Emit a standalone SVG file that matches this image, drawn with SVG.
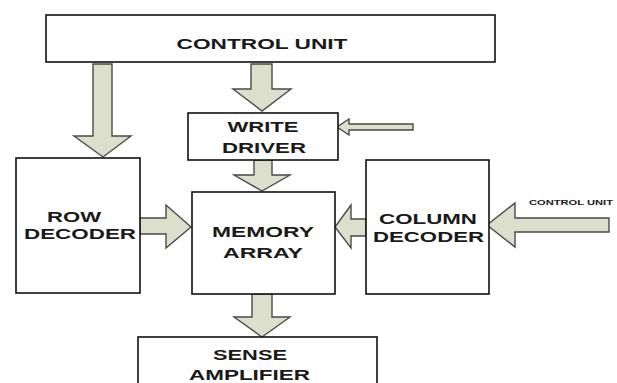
<svg xmlns="http://www.w3.org/2000/svg" width="617" height="383" viewBox="0 0 617 383">
<style>
.box{fill:#fff;stroke:#111;stroke-width:1.6}
.arr{fill:#dcdfcc;stroke:#4a4a48;stroke-width:1.4;stroke-linejoin:miter}
text{font-family:"Liberation Sans",Arial,sans-serif;font-weight:bold;fill:#1a1a1a;text-anchor:middle;font-size:15px}
.sm{font-size:7px}
</style>
<rect width="617" height="383" fill="#fff"/>
<g id="connectors">
<polygon class="arr" points="93,64 112,64 112,136 131,136 103,157 74,136 93,136"/>
<polygon class="arr" points="251,64 272,64 272,89 291,89 262,111 233,89 251,89"/>
<polygon class="arr" points="413,124 413,130 349,130 349,135 337,127 349,119 349,124"/>
<polygon class="arr" points="254,160 272,160 272,175 290,175 262,191 234,175 254,175"/>
<polygon class="arr" points="140,218 166,218 166,205 191,227 166,248 166,234 140,234"/>
<polygon class="arr" points="366,219 351,219 351,205 335,227 351,248 351,236 366,236"/>
<polygon class="arr" points="609,218 609,232 515,232 515,247 487,225 515,203 515,218"/>
<polygon class="arr" points="252,294 272,294 272,317 290,317 262,337 234,317 252,317"/>
</g>
<g id="control-unit">
<rect class="box" x="46" y="15" width="449" height="47"/>
<text x="262" y="49" font-size="16" textLength="171" lengthAdjust="spacingAndGlyphs">CONTROL UNIT</text>
</g>
<g id="write-driver">
<rect class="box" x="188" y="113" width="150" height="47"/>
<text x="263" y="131.5" textLength="71" lengthAdjust="spacingAndGlyphs">WRITE</text>
<text x="264" y="152.5" textLength="84" lengthAdjust="spacingAndGlyphs">DRIVER</text>
</g>
<g id="row-decoder">
<rect class="box" x="16" y="158" width="124" height="135"/>
<text x="74" y="221.5" textLength="54" lengthAdjust="spacingAndGlyphs">ROW</text>
<text x="80" y="238.5" textLength="112" lengthAdjust="spacingAndGlyphs">DECODER</text>
</g>
<g id="memory-array">
<rect class="box" x="192" y="192" width="143" height="102"/>
<text x="263" y="236.5" textLength="102" lengthAdjust="spacingAndGlyphs">MEMORY</text>
<text x="263" y="257.5" textLength="80" lengthAdjust="spacingAndGlyphs">ARRAY</text>
</g>
<g id="column-decoder">
<rect class="box" x="366" y="160" width="123" height="134"/>
<text x="428" y="223.5" textLength="98" lengthAdjust="spacingAndGlyphs">COLUMN</text>
<text x="428.5" y="241.5" textLength="111" lengthAdjust="spacingAndGlyphs">DECODER</text>
</g>
<g id="control-unit-input">
<text class="sm" x="571" y="204.5" textLength="84" lengthAdjust="spacingAndGlyphs">CONTROL UNIT</text>
</g>
<g id="sense-amplifier">
<rect class="box" x="138" y="337" width="239" height="60"/>
<text x="250" y="359.5" textLength="74" lengthAdjust="spacingAndGlyphs">SENSE</text>
<text x="249.5" y="379.5" textLength="121" lengthAdjust="spacingAndGlyphs">AMPLIFIER</text>
</g>
</svg>
